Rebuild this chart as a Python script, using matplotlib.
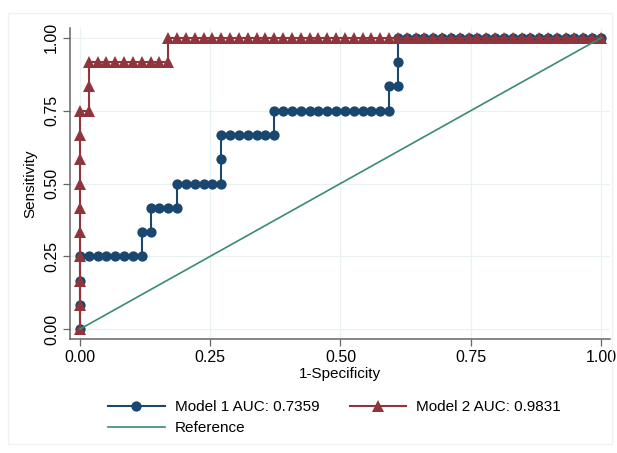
import matplotlib
matplotlib.use("Agg")
import matplotlib.pyplot as plt
from matplotlib.patches import Rectangle

plt.rcParams.update({
    "font.family": ["Liberation Sans", "DejaVu Sans"],
    "font.size": 11,
})

N_NEG = 59
N_POS = 12

# false positive counts / true positive counts at each cutoff
m1_fp = [0, 0, 0, 0, 1, 2, 3, 4, 5, 6, 7, 7, 8, 8, 9, 10, 11, 11, 12, 13, 14, 15, 16, 16, 16,
         17, 18, 19, 20, 21, 22, 22, 23, 24, 25, 26, 27, 28, 29, 30, 31, 32, 33, 34, 35, 35,
         36, 36, 36, 37, 38, 39, 40, 41, 42, 43, 44, 45, 46, 47, 48, 49, 50, 51, 52, 53, 54,
         55, 56, 57, 58, 59]
m1_tp = [0, 1, 2, 3, 3, 3, 3, 3, 3, 3, 3, 4, 4, 5, 5, 5, 5, 6, 6, 6, 6, 6, 6, 7, 8,
         8, 8, 8, 8, 8, 8, 9, 9, 9, 9, 9, 9, 9, 9, 9, 9, 9, 9, 9, 9, 10,
         10, 11, 12, 12, 12, 12, 12, 12, 12, 12, 12, 12, 12, 12, 12, 12, 12, 12, 12, 12, 12,
         12, 12, 12, 12, 12]

m2_fp = [0, 0, 0, 0, 0, 0, 0, 0, 0, 0, 1, 1, 1, 2, 3, 4, 5, 6, 7, 8, 9, 10, 10,
         11, 12, 13, 14, 15, 16, 17, 18, 19, 20, 21, 22, 23, 24, 25, 26, 27, 28, 29, 30,
         31, 32, 33, 34, 35, 36, 37, 38, 39, 40, 41, 42, 43, 44, 45, 46, 47, 48, 49, 50,
         51, 52, 53, 54, 55, 56, 57, 58, 59]
m2_tp = [0, 1, 2, 3, 4, 5, 6, 7, 8, 9, 9, 10, 11, 11, 11, 11, 11, 11, 11, 11, 11, 11, 12,
         12, 12, 12, 12, 12, 12, 12, 12, 12, 12, 12, 12, 12, 12, 12, 12, 12, 12, 12, 12,
         12, 12, 12, 12, 12, 12, 12, 12, 12, 12, 12, 12, 12, 12, 12, 12, 12, 12, 12, 12,
         12, 12, 12, 12, 12, 12, 12, 12, 12]

labels = ["Model 1 AUC: 0.7359", "Model 2 AUC: 0.9831", "Reference"]
ticks = [0.0, 0.25, 0.5, 0.75, 1.0]
tick_labels = ["0.00", "0.25", "0.50", "0.75", "1.00"]

BLUE = "#1a476f"
RED = "#90353b"
GREEN = "#3b8a72"

fig = plt.figure(figsize=(6.17, 4.53), dpi=100)
fig.patches.append(Rectangle((8 / 617, 0.02), 1 - 13 / 617, 1 - 0.02 - 13 / 453,
                             transform=fig.transFigure, fill=False,
                             edgecolor="#eef2f2", linewidth=1.0))
ax = fig.add_axes([70 / 617, 1 - 339 / 453, 540 / 617, 311 / 453])

x1 = [v / N_NEG for v in m1_fp]
y1 = [v / N_POS for v in m1_tp]
x2 = [v / N_NEG for v in m2_fp]
y2 = [v / N_POS for v in m2_tp]

h1, = ax.plot(x1, y1, color=BLUE, linewidth=1.5, marker="o", markersize=7.4,
              markeredgewidth=0, label=labels[0], zorder=3)
h2, = ax.plot(x2, y2, color=RED, linewidth=1.5, marker="^", markersize=8.0,
              markeredgewidth=0, label=labels[1], zorder=4)
h3, = ax.plot([0, 1], [0, 1], color=GREEN, linewidth=1.2, label=labels[2], zorder=5)

ax.set_xlim(-0.0192, 1.0173)
ax.set_ylim(-0.034, 1.034)
ax.set_xticks(ticks)
ax.set_xticklabels(tick_labels, fontsize=11.5)
ax.set_yticks(ticks)
ax.set_yticklabels(tick_labels, rotation=90, va="center", fontsize=11.5)
ax.grid(True, color="#eaf1f2", linewidth=0.9, zorder=0)
for s in ("top", "right"):
    ax.spines[s].set_visible(False)
for s in ("left", "bottom"):
    ax.spines[s].set_color("#666666")
    ax.spines[s].set_linewidth(1.1)
ax.tick_params(direction="out", length=5, width=0.9, color="#666666", pad=3)
ax.set_xlabel("1-Specificity", labelpad=1.5)
ax.set_ylabel("Sensitivity", labelpad=5)

# row-wise order: model 1 | model 2 / reference
fig.legend([h1, h3, h2], [labels[0], labels[2], labels[1]],
           loc="upper left", bbox_to_anchor=(102 / 617, 1 - 394 / 453), ncol=2,
           frameon=False, handlelength=3.7, handletextpad=0.65,
           columnspacing=2.0, labelspacing=0.45, borderaxespad=0)

fig.savefig("out.png", dpi=100)
